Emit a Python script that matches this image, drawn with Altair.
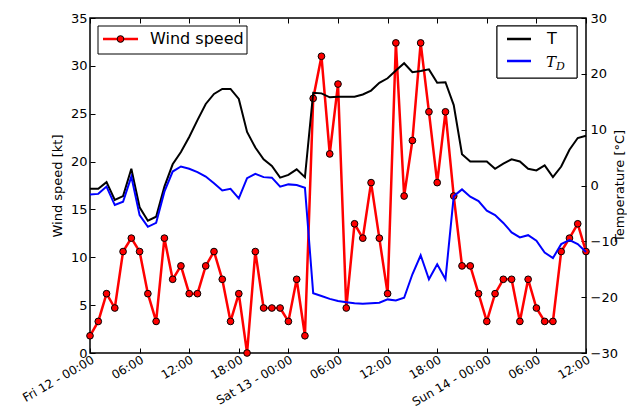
import json
import altair as alt
import pandas as pd

# ---- data (hourly, Fri 12 00:00 -> Sun 14 12:00) ----
hours = list(range(61))
wind = [1.8, 3.3, 6.2, 4.7, 10.6, 12.0, 10.6, 6.2, 3.3, 12.0,
        7.7, 9.1, 6.2, 6.2, 9.1, 10.6, 7.7, 3.3, 6.2, 0.0,
        10.6, 4.7, 4.7, 4.7, 3.3, 7.7, 1.8, 26.6, 31.0, 20.8,
        28.1, 4.7, 13.5, 12.0, 17.8, 12.0, 6.2, 32.4, 16.4, 22.2,
        32.4, 25.2, 17.8, 25.2, 16.4, 9.1, 9.1, 6.2, 3.3, 6.2,
        7.7, 7.7, 3.3, 7.7, 4.7, 3.3, 3.3, 10.6, 12.0, 13.5,
        10.6]
temperature = [-0.6, -0.6, 0.6, -2.6, -1.9, 3.0, -3.9, -6.3, -5.6, -0.2,
               3.8, 6.0, 8.7, 11.7, 14.6, 16.4, 17.3, 17.3, 15.5, 9.6,
               6.8, 4.7, 3.5, 1.4, 1.9, 2.9, 1.5, 16.6, 16.5, 15.8,
               15.9, 15.9, 15.9, 16.3, 17.0, 18.4, 19.2, 20.6, 21.9, 20.3,
               20.5, 20.8, 18.4, 18.5, 14.4, 5.6, 4.3, 4.3, 4.3, 3.0,
               3.9, 4.7, 4.3, 3.0, 2.7, 3.6, 1.5, 3.4, 6.4, 8.5,
               8.9]
dewpoint = [-1.6, -1.5, -0.2, -3.5, -2.9, 1.6, -5.3, -7.4, -6.7, -1.1,
            2.5, 3.4, 3.0, 2.4, 1.6, 0.4, -0.9, -0.6, -2.3, 1.3,
            2.1, 1.5, 1.4, -0.2, 0.2, 0.1, -0.4, -19.3, -19.8, -20.3,
            -20.7, -20.9, -21.1, -21.2, -21.1, -21.0, -20.4, -20.6, -20.1, -15.9,
            -12.5, -16.8, -14.1, -16.8, -1.9, -0.7, -2.0, -2.8, -4.5, -5.3,
            -6.7, -8.4, -9.3, -8.9, -9.9, -12.0, -13.0, -10.5, -9.8, -10.5,
            -11.9]
tick_hours = [0, 6, 12, 18, 24, 30, 36, 42, 48, 54, 60]
tick_labels = ["Fri 12 - 00:00", "06:00", "12:00", "18:00",
               "Sat 13 - 00:00", "06:00", "12:00", "18:00",
               "Sun 14 - 00:00", "06:00", "12:00"]
wind_ticks = [0, 5, 10, 15, 20, 25, 30, 35]
temp_ticks = [-30, -20, -10, 0, 10, 20, 30]
series_names = ["T", "TD"]
series_colors = ["black", "blue"]
wind_label = ["Wind speed"]

df = pd.DataFrame({"hour": hours, "wind": wind, "T": temperature, "TD": dewpoint})

FONT = "DejaVu Sans"
label_expr = f"{json.dumps(tick_labels)}[indexof({json.dumps(tick_hours)}, datum.value)]"

x_scale = alt.Scale(domain=[0, 60], nice=False, zero=False)
x_axis_bottom = alt.Axis(values=tick_hours, labelExpr=label_expr, labelAngle=330,
                         labelAlign="right", labelBaseline="top", tickSize=5, offset=-5,
                         domain=False, grid=False, labelPadding=1, title=None,
                         labelFontSize=12,
                         labelOverlap=False, labelFlush=False, labelBound=False)
x_axis_top = alt.Axis(orient="top", values=tick_hours, labels=False, tickSize=5, offset=-5,
                      domain=False, grid=False, title=None)
y_left = alt.Axis(orient="left", values=wind_ticks, tickSize=5, offset=-5, domain=False,
                  grid=False, labelPadding=3, title="Wind speed [kt]", titlePadding=6,
                  labelOverlap=False, labelFlush=False)
y_right = alt.Axis(orient="right", values=temp_ticks, tickSize=5, offset=-5, domain=False,
                   grid=False, labelPadding=4, title="Temperature [°C]", titlePadding=9,
                   titleAngle=270, labelOverlap=False, labelFlush=False)

base = alt.Chart(df)
xw = alt.X("hour:Q", scale=x_scale, axis=x_axis_bottom)
yw = alt.Y("wind:Q", scale=alt.Scale(domain=[0, 35], nice=False), axis=y_left)

wind_line = base.mark_line(color="red", strokeWidth=2.5).encode(x=xw, y=yw)
wind_pts = base.mark_circle(size=45, color="red", stroke="black", strokeWidth=1,
                            opacity=1).encode(x=xw, y=yw)
wind_layer = alt.layer(wind_line, wind_pts)

temp_layer = base.transform_fold(series_names, as_=["var", "val"]).mark_line(
    strokeWidth=2).encode(
    x=alt.X("hour:Q", scale=x_scale, axis=x_axis_top),
    y=alt.Y("val:Q", scale=alt.Scale(domain=[-30, 30], nice=False), axis=y_right),
    color=alt.Color("var:N", scale=alt.Scale(domain=series_names, range=series_colors),
                    legend=None),
)

# ---- legends drawn as decoration ----
one = alt.Chart(pd.DataFrame({"label": wind_label}))
leg1_box = one.mark_rect(fill="white", stroke="black", strokeWidth=1).encode(
    x=alt.value(8), x2=alt.value(157), y=alt.value(8), y2=alt.value(36))
leg1_line = one.mark_rule(color="red", strokeWidth=2.5).encode(
    x=alt.value(13), x2=alt.value(48), y=alt.value(21))
leg1_pt = one.mark_circle(size=45, color="red", stroke="black", strokeWidth=1, opacity=1).encode(
    x=alt.value(30.5), y=alt.value(21))
leg1_txt = one.mark_text(align="left", baseline="middle", fontSize=16, font=FONT,
                         color="black").encode(x=alt.value(60), y=alt.value(21), text="label:N")

two = alt.Chart(pd.DataFrame({"name": series_names, "color": series_colors}))
leg2_box = two.mark_rect(fill="white", stroke="black", strokeWidth=1).encode(
    x=alt.value(407), x2=alt.value(487), y=alt.value(8), y2=alt.value(60))
leg2_l1 = alt.Chart(pd.DataFrame({"n": series_names[:1]})).mark_rule(
    color=series_colors[0], strokeWidth=2.5).encode(x=alt.value(417), x2=alt.value(441), y=alt.value(21))
leg2_l2 = alt.Chart(pd.DataFrame({"n": series_names[1:]})).mark_rule(
    color=series_colors[1], strokeWidth=2.5).encode(x=alt.value(417), x2=alt.value(441), y=alt.value(43))
leg2_t = alt.Chart(pd.DataFrame({"t": ["T"]})).mark_text(
    align="left", baseline="middle", fontSize=16, font=FONT, color="black").encode(
    x=alt.value(457), y=alt.value(21), text="t:N")
leg2_td = alt.Chart(pd.DataFrame({"t": ["T"]})).mark_text(
    align="left", baseline="alphabetic", fontSize=15, font="DejaVu Serif", fontStyle="italic",
    color="black").encode(x=alt.value(456), y=alt.value(48.5), text="t:N")
leg2_sub = alt.Chart(pd.DataFrame({"t": ["D"]})).mark_text(
    align="left", baseline="alphabetic", fontSize=11, font="DejaVu Serif", fontStyle="italic",
    color="black").encode(x=alt.value(466), y=alt.value(52), text="t:N")

chart = alt.layer(
    wind_layer, temp_layer,
    leg1_box, leg1_line, leg1_pt, leg1_txt,
    leg2_box, leg2_l1, leg2_l2, leg2_t, leg2_td, leg2_sub,
).resolve_scale(y="independent").resolve_axis(x="independent").properties(
    width=496, height=335,
    padding={"left": 82, "top": 10, "right": 41, "bottom": 57},
    autosize="none",
).configure_view(stroke="black", strokeWidth=1.5).configure_axis(
    labelFont=FONT, titleFont=FONT, labelFontSize=13, titleFontSize=13,
    titleFontWeight="normal", labelColor="black", titleColor="black",
    tickColor="black", tickWidth=1,
)

chart.save("out.html", embed_options={"renderer": "svg", "actions": False})
